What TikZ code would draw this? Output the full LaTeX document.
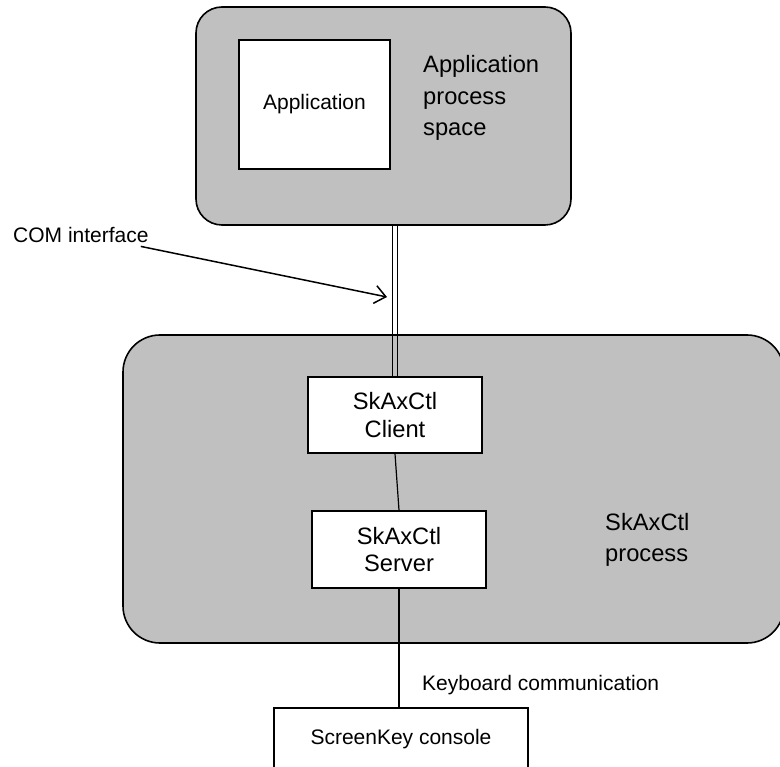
\documentclass[tikz,border=0pt]{standalone}
\usepackage{fontspec}
\setmainfont{Liberation Sans}
\usetikzlibrary{arrows.meta}
\definecolor{shade}{HTML}{C0C0C0}
\begin{document}
\begin{tikzpicture}[x=1pt,y=-1pt,
  space/.style={draw,fill=shade,rounded corners=#1,line width=1.6pt},
  box/.style={draw,fill=white,line width=1.6pt,align=center,inner sep=0pt},
  big/.style={font=\fontsize{23.7}{27.3}\selectfont},
  small/.style={font=\fontsize{21}{25}\selectfont},
  lbl/.style={inner sep=0pt,align=left}]
\useasboundingbox (0,0) rectangle (780,767);
% process spaces
\node[space=26pt,minimum width=375pt,minimum height=218pt] (appspace) at (383.5,116) {};
\node[space=37pt,minimum width=661pt,minimum height=308pt] (procspace) at (453.5,489) {};
% boxes
\node[box,small,minimum width=151pt,minimum height=129pt] (appbox) at (314.5,104.5) {Application};
\node[box,big,minimum width=174pt,minimum height=76pt] (client) at (395,415) {SkAxCtl\\Client};
\node[box,big,minimum width=174pt,minimum height=77pt] (server) at (399,549.5) {SkAxCtl\\Server};
\node[box,small,minimum width=254pt,minimum height=62pt] (console) at (401,739) {ScreenKey console};
% labels
\node[lbl,anchor=north west,font=\fontsize{23.7}{31.7}\selectfont] (applbl) at (423,55) {Application\\process\\space};
\node[lbl,anchor=north west,font=\fontsize{23.7}{31}\selectfont] (proclbl) at (605,513) {SkAxCtl\\process};
\node[lbl,small,anchor=base west] (comlbl) at (13,242.5) {COM interface};
\node[lbl,small,anchor=base west] (kbdlbl) at (422,690) {Keyboard communication};
\coordinate (comtip) at (387,297);
% connectors
\draw[line width=1.6pt] ([xshift=-2.6pt]client.north |- appspace.south) -- ([xshift=-2.6pt]client.north);
\draw[line width=1.6pt] ([xshift=2.6pt]client.north |- appspace.south) -- ([xshift=2.6pt]client.north);
\draw[line width=1.2pt] (client.south) -- (server.north);
\draw[line width=1.2pt] (server.south) -- (server.south |- console.north);
\draw[line width=1.5pt,-{Straight Barb[length=11pt,width=18pt,line width=1.5pt]}] ([xshift=-8pt,yshift=-3.5pt]comlbl.south east) -- (comtip);
\end{tikzpicture}
\end{document}
